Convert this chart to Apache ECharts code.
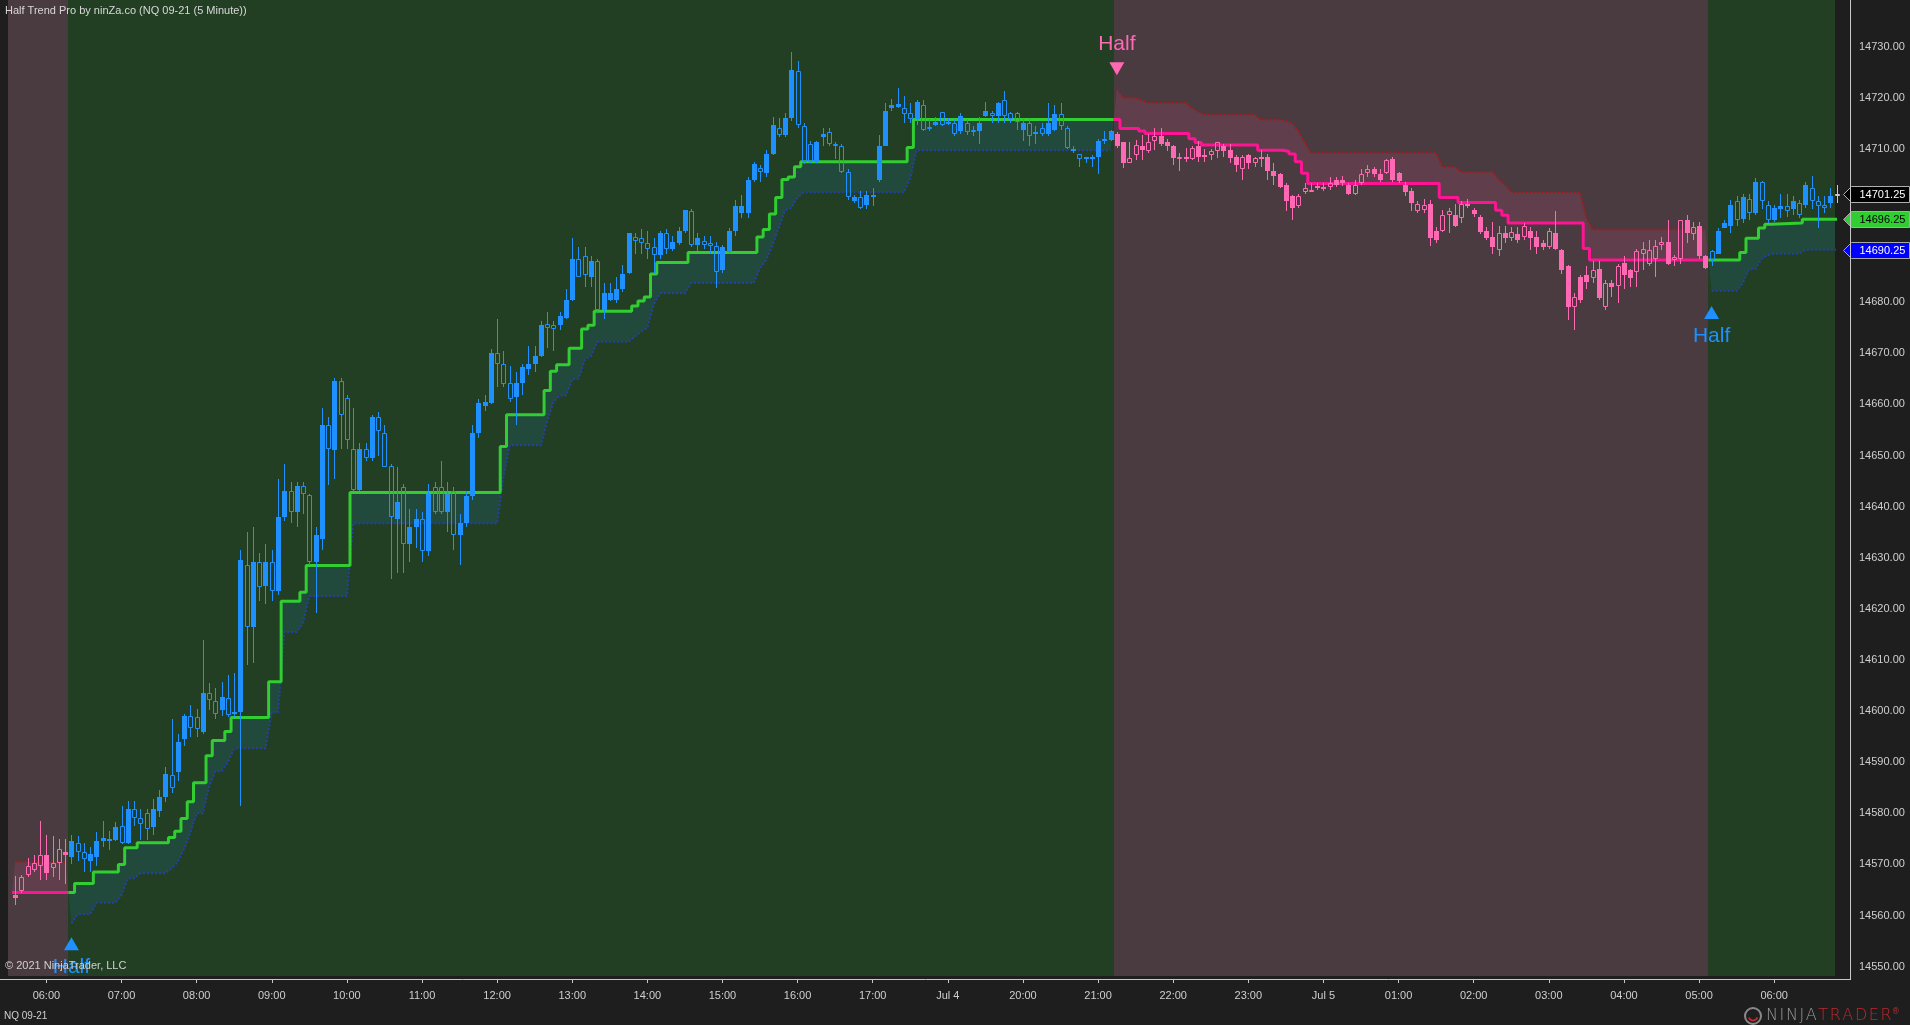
<!DOCTYPE html>
<html><head><meta charset="utf-8">
<script src="https://cdn.jsdelivr.net/npm/echarts@6/dist/echarts.min.js"></script>
<style>html,body{margin:0;padding:0;background:#1e1e1e;overflow:hidden}#c{width:1910px;height:1025px}</style>
</head><body><div id="c"></div>
<script>
// ---- data (5-minute bars, index 0..291) ----
const open = [
14564,14564.75,14568,14569,14569.75,14571.75,14569.25,14570.25,14572.5,14571.5,
14574.25,14572.5,14570.75,14571.5,14574.5,14574.75,14574.75,14577.5,14574.25,14580.75,
14579,14580,14577.25,14580.5,14583.25,14587.5,14588,14594.5,14599,14598.75,
14596,14603.5,14602,14600.25,14602.5,14599.5,14599.75,14628.5,14616.5,14629.25,
14624.5,14629.25,14623.5,14638,14643,14639,14644,14642.25,14629.25,14633.75,
14656,14651,14664.5,14661.25,14651.25,14643.25,14651.25,14649.5,14657.5,14654.5,
14648,14637.5,14643.75,14632.75,14636,14637.5,14631.25,14643.75,14643.75,14639,
14643,14634.5,14636.75,14642,14654.5,14659.75,14660.25,14670,14668,14664.25,
14661.5,14664.25,14667,14668,14669.5,14675.75,14675.5,14675.5,14677,14680.5,
14688.5,14689,14685,14688,14678.5,14680.5,14680.5,14682.5,14685.75,14692.75,
14692.5,14691.5,14690.75,14689.25,14693.5,14690.5,14691.5,14694,14697.75,14691.25,
14692,14691.5,14691,14686.25,14689.75,14694,14697.5,14697.5,14704,14706.25,
14705.25,14709,14714,14712.75,14716,14725.25,14714.5,14711,14707.5,14712.25,
14713.25,14711,14710.5,14705.5,14699.75,14700.5,14699,14700.5,14704,14710.5,
14718,14718.25,14718,14717,14715.75,14718.5,14714.25,14714.75,14717.25,14715,
14715,14713.5,14715,14713.75,14713.5,14716.5,14717,14716.5,14719.5,14717,
14717,14713.75,14715,14713,14714,14713,14713.75,14716.75,14714,14709.5,
14709,14708,14708.25,14708.5,14711.75,14711.75,14713,14711.25,14707.25,14708.75,
14710.5,14709.5,14711.5,14712.5,14711.25,14710.5,14708,14708.5,14708,14710.5,
14708.75,14708.75,14709.5,14710.5,14709.75,14708.5,14706,14708.75,14707.25,14708.5,
14708.5,14705.75,14705,14703,14700.75,14698.75,14701.5,14701.75,14702.75,14702.5,
14702.5,14704,14704,14703,14701.25,14703.25,14705.25,14706,14705,14705.25,
14708,14705.25,14703,14701.75,14697.75,14698,14699.25,14694,14694,14697,
14697,14696.5,14699.25,14698,14696.75,14694,14692.75,14690.25,14693.5,14692.5,
14693.25,14692.75,14694,14692.75,14691.5,14690.75,14693.5,14690.25,14687,14679,
14685,14685.25,14684.75,14686.5,14679,14683.75,14683.25,14687.75,14686.25,14686,
14689.5,14687.5,14688.5,14691.25,14691.75,14688.25,14688.5,14696,14693.25,14695,
14689,14690,14689.5,14694.5,14695,14699.75,14696.25,14700.25,14697.5,14703.5,
14699,14696,14698.25,14698.75,14698.25,14699.5,14699,14702.25,14699.75,14699,
14699.5,14701];
const high = [
14567.75,14568,14571.25,14571.75,14578.5,14575.75,14575.5,14575,14575,14575.75,
14575.5,14574.25,14573.5,14576.25,14578.5,14576.5,14578.25,14581.5,14582.5,14582.5,
14580.75,14580.75,14582.75,14584.5,14589,14598.5,14595.5,14599.5,14601.25,14600.5,
14614,14605.5,14604.5,14605.75,14607,14607.5,14631.5,14635,14636,14631,
14632.75,14631.5,14645.5,14648.25,14644.75,14644.75,14644.75,14642.5,14636,14659.25,
14657.5,14665.25,14665.25,14661.75,14659.25,14652.5,14652.5,14658,14658.5,14656,
14648.25,14647.75,14644.5,14639.5,14639.5,14639,14644.5,14644.75,14649,14644.75,
14643.75,14638.5,14643,14656,14661,14661.75,14670.75,14676.75,14670.5,14667.5,
14666.25,14668,14671.5,14671.5,14676.25,14678,14676.25,14678,14682.5,14692.5,
14690.75,14690.75,14689,14688.5,14683.75,14683.75,14685,14687.25,14693.5,14693.5,
14694.25,14694,14692.5,14694,14694.25,14693,14694.75,14698,14698.25,14693.5,
14693,14693,14691.75,14691.25,14694.5,14700,14701,14704.5,14707.5,14706.75,
14709.75,14716.25,14716,14717,14729,14727.25,14715,14711.5,14711.5,14714,
14714,14711.25,14711,14706,14701,14701.75,14701.75,14702.25,14712.75,14719,
14719.75,14722,14720.25,14719,14719.5,14719.5,14715.75,14716.25,14717.25,14716,
14715.75,14717,14715.75,14714.5,14716.25,14719.25,14717.5,14719.25,14721.25,14717.25,
14717.25,14715.75,14715.75,14714.5,14715,14719,14718.5,14719,14714.5,14710.5,
14709,14708.5,14708.75,14712,14713.5,14713.75,14713.25,14711.25,14711.25,14711.75,
14712.75,14713,14714,14714,14712,14710.75,14709.25,14710.25,14710.5,14711.5,
14710,14710,14711.25,14711,14711,14708.75,14708.75,14709,14708.5,14709.75,
14709,14707.25,14705.25,14703.25,14701,14701.25,14703.25,14703.25,14703.25,14703.25,
14704.5,14704.5,14704.75,14703.25,14704,14706,14706.75,14706.5,14706,14708,
14708.5,14705.5,14703.5,14702.25,14699.75,14700.25,14700,14694.75,14698,14698.5,
14699.25,14699.75,14700.25,14698.5,14697,14694.75,14695.75,14695,14695,14694.75,
14694.75,14695.5,14694.75,14694,14692.25,14694.5,14697.75,14690.5,14687.25,14681.75,
14685.25,14687,14688,14688,14684.25,14684.25,14687.5,14689,14686.5,14690.5,
14691.75,14692.25,14692.25,14692.75,14696,14689.25,14696,14697,14695.75,14695.75,
14689.25,14690.25,14694.5,14696,14700,14700.75,14701.25,14701.25,14704.25,14703.75,
14699.75,14699,14701.25,14701.25,14700.75,14700,14703.5,14704.75,14700.75,14700.75,
14702.25,14703];
const low = [
14562,14564.5,14567.5,14568.5,14567,14567,14567.5,14567,14566.25,14570,
14570.75,14568.5,14568.5,14569.75,14573.5,14572.75,14574.5,14574,14574,14577.5,
14574.75,14574.75,14575.75,14579.25,14582.25,14584,14586.25,14593.25,14595,14595,
14595.5,14600.25,14598.5,14599,14598.75,14598.75,14581.5,14609,14609.5,14621.5,
14621,14621.5,14622.75,14637.25,14636.75,14636,14638.5,14628.5,14619.25,14631.5,
14644.25,14645.5,14651.25,14651.25,14643,14643,14649,14649,14650,14647.75,
14625.75,14627,14627,14629.25,14632,14629.25,14630.25,14638.5,14638.5,14635,
14631.5,14628.5,14636,14641.25,14653.5,14658.75,14660,14663.5,14663.5,14660.5,
14656,14661.75,14665.75,14666.25,14669.25,14671,14670.5,14674.5,14676.75,14680.25,
14685,14683,14683,14678,14676.75,14680.25,14679.75,14682,14685.5,14689.5,
14689.5,14688.5,14685.5,14688.5,14689.5,14690,14691.25,14693.5,14690.75,14690,
14690.5,14689.5,14682.75,14685.75,14689.5,14693,14696.5,14696.5,14703.5,14703.5,
14704.5,14708.75,14712.25,14712.25,14715.5,14714,14707,14707.25,14707.25,14710.5,
14710.5,14708,14705.25,14700,14699.5,14698.25,14698.25,14698.75,14703.5,14710.5,
14717.5,14718,14715,14715,14714.75,14713.5,14713.5,14714.5,14714.5,14714.75,
14712.5,14713,14712.75,14712.5,14711,14716.25,14715,14715,14715,14715,
14713.75,14711.5,14710.5,14711,14712.5,14712.5,14713.5,14713.75,14710,14709.25,
14706.5,14707.25,14706.5,14705,14711,14711.5,14710.25,14706.25,14707.25,14707.75,
14707.75,14709.25,14709.75,14710.5,14709.5,14706.75,14705.75,14707.5,14707.75,14707.5,
14707.5,14707.75,14708.25,14708.5,14707.25,14705.5,14704,14706,14706.5,14706.5,
14704,14703,14702.25,14697.75,14696,14698.5,14701.25,14701.5,14702,14701.75,
14702,14702.5,14702.75,14701,14701,14703,14704.5,14704.5,14703.5,14705,
14703.5,14703.25,14700.75,14697.75,14697.5,14697.5,14691,14691.5,14693.75,14693.5,
14694.75,14695.5,14698.5,14696.75,14693.25,14692.25,14689.5,14689,14691.5,14692,
14691.5,14692.25,14690.25,14689.5,14690.25,14690.5,14690.25,14685.5,14676.5,14674.5,
14679.75,14682.5,14683.75,14680.5,14678.5,14681,14679.75,14682.5,14683,14683,
14686.25,14687,14685,14690.25,14687.25,14687,14687.5,14691.5,14692.25,14688.5,
14686.5,14687,14689.5,14694.5,14693.5,14695,14695.5,14696,14697,14698.25,
14695.5,14695.75,14696.5,14696.75,14697,14696.5,14698.5,14698.25,14694.5,14697.5,
14698.5,14699.5];
const close = [
14563.5,14567.5,14569.75,14570.25,14571.75,14568.25,14570.25,14573,14571.75,14574.5,
14572.5,14571,14572,14574.5,14575.25,14575,14577.25,14574.25,14580.75,14579,
14578,14577,14580.75,14583.25,14587.75,14585,14594,14599,14596.75,14596.5,
14603.5,14602.25,14599.5,14602.75,14599.25,14599.75,14629.5,14616.5,14629.25,14624.25,
14629.25,14623.5,14638,14643,14639,14644,14642.5,14629.25,14634.5,14656,
14651.25,14664.5,14658,14653,14643.25,14651.25,14649.5,14657.5,14654.75,14647.75,
14638,14641,14632.75,14636,14637.5,14631.25,14642.5,14639,14639,14642.5,
14634.5,14636.75,14642,14654.5,14660.25,14660.5,14670,14668,14664,14661,
14664.25,14667.25,14668,14669.5,14675.5,14675,14674.75,14677.25,14680.5,14688.5,
14685,14685.25,14688,14678.5,14681.75,14681.75,14682.5,14685.5,14693.5,14692,
14691.5,14690.5,14689.25,14693.5,14690.5,14691.75,14694,14698,14691.25,14692.5,
14691.25,14691,14686,14690.75,14694,14698.75,14698.75,14704,14707,14705.5,
14709,14714.75,14712.75,14716,14725.5,14714.75,14707.5,14707.5,14711.25,14713,
14711,14710.5,14705.5,14700.5,14700.5,14698.5,14701,14701,14710.5,14717.5,
14718.5,14718.75,14716.75,14715.75,14719.25,14713.75,14714,14715.25,14714.75,14715.25,
14713,14716.5,14713.25,14713.5,14715,14717.5,14716.5,14719,14716.5,14715.75,
14715.25,14715,14712.5,14713.25,14713,14715,14716.75,14714.5,14710.25,14710,
14708,14708.5,14708.5,14711.5,14712,14713.5,14710.5,14707.25,14708.25,14710.75,
14709.75,14711.25,14712.5,14711,14710.5,14708.25,14708.5,14708,14710.25,14708.5,
14708.5,14709.5,14711.25,14709.5,14708.25,14706.75,14708.5,14707.25,14708.25,14708,
14705.75,14704.75,14702.5,14699.75,14698.5,14700.75,14702.25,14702,14702.5,14702.5,
14703.25,14703,14703.25,14701.25,14703,14705,14706,14705,14704,14707.75,
14704,14703.75,14701.5,14699.5,14699.25,14699,14692.5,14692.25,14697,14697.75,
14695,14699.25,14699,14697.25,14693.75,14692.5,14690.75,14693.5,14692.5,14693.75,
14692.25,14695,14692.5,14690.75,14690.75,14694,14690.5,14686.25,14679,14681,
14680.5,14684,14686.25,14680.75,14683.75,14683,14687,14685.25,14684.75,14690,
14690.5,14690.25,14691,14691.75,14687.5,14688.75,14696,14693.5,14694.75,14689,
14686.75,14688.25,14694,14695.5,14699,14696,14700.5,14697.5,14703.5,14699.75,
14696,14698.5,14698.75,14697.75,14699.75,14697,14703,14699.75,14698.75,14698.5,
14700.75,14701.25];

// trend segments: [firstBar, lastBar, direction]
const trendSegments = [[0,8,-1],[9,175,1],[176,270,-1],[271,291,1]];
// Half Trend line steps: [barWhereLevelStarts, level]
const htSteps = [
[0,14564.5],[9,14564.5],[10,14566.25],[13,14568.5],[17,14570],[18,14573.25],[20,14574.25],[25,14575.25],[26,14576.5],
[27,14579],[28,14582.25],[29,14586],[31,14591.25],[32,14594.25],[34,14596],[35,14598.75],[41,14605.75],[43,14621.5],
[46,14623.25],[47,14628.5],[54,14642.75],[78,14651.75],[79,14658],[85,14662.75],[86,14666.5],[87,14667.75],[89,14671],
[91,14674.75],[92,14675.5],[93,14678.25],[99,14679.25],[100,14680.25],[101,14681],[102,14685.5],[103,14687.75],
[108,14689.75],[119,14692.75],[120,14694.25],[121,14697.25],[122,14700.5],[123,14704],[124,14704.5],[125,14706.5],
[126,14707.5],[143,14710.25],[144,14715.75],
[176,14715.75],[177,14714],[180,14713.5],[181,14713],[188,14712],[189,14711.25],[190,14710.75],[199,14709.75],
[203,14709.5],[204,14709],[205,14707.5],[206,14705.25],[207,14703.25],[228,14700.5],[231,14699.5],[237,14698],
[238,14697],[239,14695.5],[251,14690.5],[252,14688.25],
[271,14688.25],[276,14689.75],[277,14692.5],[279,14694.5],[280,14695.25],[281,14695.5],[286,14696.25]];
// ATR band vertices: [bar, level]
const bandPoints = [
[0,14570.5],[8,14570.5],
[9,14558.5],[10,14560.25],[12,14560.25],[13,14562.5],[16,14562.5],[17,14564],[18,14567.25],[19,14567.25],[20,14568.25],
[24,14568.25],[25,14569.25],[26,14570.5],[27,14573],[28,14576.25],[29,14580],[30,14580],[31,14585.25],[32,14588.25],
[33,14588.25],[34,14590],[35,14592.75],[40,14592.75],[41,14599.75],[42,14599.75],[43,14615.5],[45,14615.5],[46,14617.25],
[47,14622.5],[53,14622.5],[54,14636.75],[77,14636.75],[78,14645.75],[79,14652],[84,14652],[85,14656.75],[86,14660.5],
[87,14661.75],[88,14661.75],[89,14665],[90,14665],[91,14668.75],[92,14669.5],[93,14672.25],[98,14672.25],[99,14673.25],
[100,14674.25],[101,14675],[102,14679.5],[103,14681.75],[107,14681.75],[108,14683.75],[118,14683.75],[119,14686.75],
[120,14688.25],[121,14691.25],[122,14694.5],[123,14698],[124,14698.5],[125,14700.5],[126,14701.5],[142,14701.5],
[143,14704.25],[144,14709.75],[175,14709.75],
[176,14721.75],[177,14720],[179,14720],[180,14719.5],[181,14719],[187,14719],[188,14718],[189,14717.25],[190,14716.75],
[198,14716.75],[199,14715.75],[202,14715.75],[203,14715.5],[204,14715],[205,14713.5],[206,14711.25],[207,14709.25],
[227,14709.25],[228,14706.5],[230,14706.5],[231,14705.5],[236,14705.5],[237,14704],[238,14703],[239,14701.5],
[250,14701.5],[251,14696.5],[252,14694.25],[270,14694.25],
[271,14682.25],[275,14682.25],[276,14683.75],[277,14686.5],[278,14686.5],[279,14688.5],[280,14689.25],[281,14689.5],
[285,14689.5],[286,14690.25],[291,14690.25]];
// signal arrows: [bar, level, direction]
const signals = [[9,14554.4,1],[176,14725.8,-1],[271,14677.9,1]];
const signalText = 'Half';
// axis ticks
const xTickBars = [5,17,29,41,53,65,77,89,101,113,125,137,149,161,173,185,197,209,221,233,245,257,269,281];
const xTickLabels = ['06:00','07:00','08:00','09:00','10:00','11:00','12:00','13:00','14:00','15:00','16:00','17:00',
  'Jul 4','20:00','21:00','22:00','23:00','Jul 5','01:00','02:00','03:00','04:00','05:00','06:00'];
const yTicks = [14550,14560,14570,14580,14590,14600,14610,14620,14630,14640,14650,14660,14670,14680,14690,14700,14710,14720,14730];

// ---- styling ----
const FONT = '"Liberation Sans", Arial, sans-serif';
const BG_UP = '#223f24', BG_DN = '#4a3b41';
const C_UP = '#1e90ff', C_DN = '#ff69b4';
const HT_UP = '#32cd32', HT_DN = '#ff1493';
const BAND_UP = '#2242a8', BAND_DN = '#9a1e1e';
const FILL_UP = 'rgba(32,96,112,0.32)', FILL_DN = 'rgba(210,80,130,0.16)';
const xMin = -1.134, xMax = 290.72, yMin = 14548.17, yMax = 14739.13;

function trendAt(i){ for (const s of trendSegments) if (i>=s[0] && i<=s[1]) return s[2]; return 1; }
function stepsOf(s,e){ return htSteps.filter(p=>p[0]>=s && p[0]<=e); }
function bandOf(s,e){ return bandPoints.filter(p=>p[0]>=s && p[0]<=e); }

const nBars = close.length;
const candleData = [];
for (let i=0;i<nBars;i++) candleData.push([i, open[i], close[i], low[i], high[i]]);

const series = [];
// background trend regions
series.push({
  type:'custom', z:1, silent:true, clip:true,
  data: trendSegments.map((s,k)=>[s[0], yMin, k]),
  encode:{x:0,y:1},
  renderItem(params, api){
    const k = params.dataIndex, seg = trendSegments[k], cs = params.coordSys;
    let x0 = api.coord([seg[0]-0.5, yMin])[0], x1 = api.coord([seg[1]+0.5, yMin])[0];
    if (k===0) x0 = cs.x;
    if (k===trendSegments.length-1) x1 = cs.x+cs.width;
    x0 = Math.round(Math.max(x0, cs.x)); x1 = Math.round(Math.min(x1, cs.x+cs.width));
    return {type:'rect', shape:{x:x0, y:cs.y, width:x1-x0, height:cs.height}, style:{fill: seg[2]>0?BG_UP:BG_DN}};
  }
});
// fill between half trend line and band
series.push({
  type:'custom', z:2, silent:true, clip:true,
  data: trendSegments.map((s,k)=>[s[0], yMin, k]),
  encode:{x:0,y:1},
  renderItem(params, api){
    const seg = trendSegments[params.dataIndex];
    const st = stepsOf(seg[0], seg[1]);
    const pts = [];
    st.forEach((p,k)=>{
      const xa = p[0]-0.5, xb = k<st.length-1 ? st[k+1][0]-0.5 : seg[1]+0.5;
      pts.push(api.coord([xa,p[1]]), api.coord([xb,p[1]]));
    });
    bandOf(seg[0], seg[1]).slice().reverse().forEach(p=>pts.push(api.coord(p)));
    return {type:'polygon', shape:{points:pts}, style:{fill: seg[2]>0?FILL_UP:FILL_DN}};
  }
});
// band lines and half trend lines
trendSegments.forEach(seg=>{
  series.push({type:'line', z:3, silent:true, symbol:'none', animation:false,
    data: bandOf(seg[0],seg[1]),
    lineStyle:{color: seg[2]>0?BAND_UP:BAND_DN, width:2, type:[2,2]}});
});
trendSegments.forEach(seg=>{
  const st = stepsOf(seg[0],seg[1]);
  const d = st.map(p=>[p[0]-0.5, p[1]]);
  d.push([seg[1]+0.5, st[st.length-1][1]]);
  series.push({type:'line', z:4, silent:true, symbol:'none', step:'end', animation:false,
    data:d, lineStyle:{color: seg[2]>0?HT_UP:HT_DN, width:3}});
});
// candles
series.push({
  type:'custom', z:5, silent:true, clip:false,
  data: candleData, encode:{x:0, y:[1,2,3,4]},
  renderItem(params, api){
    const i = api.value(0), o = api.value(1), c = api.value(2), l = api.value(3), h = api.value(4);
    const t = trendAt(i);
    const last = i === nBars-1;
    const col = last ? '#c8c8c8' : (t>0 ? C_UP : C_DN);
    const filled = t>0 ? c>=o : c<=o;
    const pO = api.coord([i,o]), pC = api.coord([i,c]), pL = api.coord([i,l]), pH = api.coord([i,h]);
    const x = Math.round(pO[0]) + 0.5;
    let top = Math.round(Math.min(pO[1],pC[1])), bot = Math.round(Math.max(pO[1],pC[1]));
    if (bot-top < 2) bot = top + 2;
    const ch = [];
    ch.push({type:'line', shape:{x1:x, y1:Math.round(pH[1]), x2:x, y2:top}, style:{stroke:col, lineWidth:1}});
    ch.push({type:'line', shape:{x1:x, y1:bot, x2:x, y2:Math.round(pL[1])}, style:{stroke:col, lineWidth:1}});
    if (last) {
      ch.push({type:'rect', shape:{x:x-2, y:top+0.5, width:4, height:bot-top-1}, style:{fill:HT_UP, stroke:col, lineWidth:1}});
    } else if (filled) {
      ch.push({type:'rect', shape:{x:x-2.5, y:top, width:5, height:bot-top}, style:{fill:col}});
    } else {
      ch.push({type:'rect', shape:{x:x-2, y:top+0.5, width:4, height:bot-top-1}, style:{fill:'none', stroke:col, lineWidth:1}});
    }
    return {type:'group', children:ch};
  }
});
// signal arrows
series.push({
  type:'custom', z:6, silent:true, clip:true,
  data: signals, encode:{x:0,y:1},
  renderItem(params, api){
    const p = api.coord([api.value(0), api.value(1)]);
    const up = api.value(2) > 0;
    const col = up ? C_UP : C_DN;
    const x = p[0], y = p[1];
    const tri = up ? [[x,y-7],[x-7.5,y+6],[x+7.5,y+6]] : [[x-7.5,y-6],[x+7.5,y-6],[x,y+7]];
    return {type:'group', children:[
      {type:'polygon', shape:{points:tri}, style:{fill:col}},
      {type:'text', x:x, y: up ? y+23 : y-24, style:{text:signalText, fill:col, font:'21px '+FONT, align:'center', verticalAlign:'middle'}}
    ]};
  }
});
// right-axis price markers
const markers = [
  [xMax, close[nBars-1], '#000000', '#ffffff', '#b0b0b0'],
  [xMax, htSteps[htSteps.length-1][1], HT_UP, '#000000', '#a8a8a8'],
  [xMax, bandPoints[bandPoints.length-1][1], '#0000ff', '#ffffff', '#a8a8a8']
];
series.push({
  type:'custom', z:7, silent:true, clip:false,
  data: markers.map(m=>[m[0], m[1]]), encode:{x:0,y:1},
  renderItem(params, api){
    const m = markers[params.dataIndex];
    const cs = params.coordSys;
    const y = Math.round(api.coord([m[0], m[1]])[1]) + 0.5;
    const tip = cs.x + cs.width + 8.5, body = tip + 8, right = 1909.5;
    return {type:'group', children:[
      {type:'polygon', shape:{points:[[tip,y],[body,y-8],[right,y-8],[right,y+8],[body,y+8]]}, style:{fill:m[2], stroke:m[4], lineWidth:1}},
      {type:'text', x: body+8, y:y, style:{text:m[1].toFixed(2), fill:m[3], font:'11px '+FONT, verticalAlign:'middle', align:'left'}}
    ]};
  }
});

const labelMap = {};
xTickBars.forEach((b,k)=>labelMap[b]=xTickLabels[k]);
const HS = '\u200A';
const spaced = s => s.split('').join(HS);

const option = {
  backgroundColor:'#1e1e1e',
  animation:false,
  grid:{left:8, top:0, right:75, bottom:49, outerBoundsMode:'none'},
  xAxis:{type:'value', min:xMin, max:xMax, offset:3,
    axisLine:{show:false}, splitLine:{show:false},
    axisTick:{show:true, customValues:xTickBars, length:4, lineStyle:{color:'#c8c8c8'}},
    axisLabel:{customValues:xTickBars, formatter:v=>labelMap[Math.round(v)]||'', color:'#cfcfcf', fontSize:11, fontFamily:'Liberation Sans', margin:11}},
  yAxis:{type:'value', position:'right', min:yMin, max:yMax, offset:15, scale:true,
    axisLine:{show:false}, splitLine:{show:false},
    axisTick:{show:true, customValues:yTicks, length:5, lineStyle:{color:'#c8c8c8'}},
    axisLabel:{customValues:yTicks, formatter:v=>Number(v).toFixed(2), color:'#cfcfcf', fontSize:11, fontFamily:'Liberation Sans', margin:9}},
  series: series,
  graphic:[
    {type:'line', z:50, silent:true, shape:{x1:0, y1:979.5, x2:1851, y2:979.5}, style:{stroke:'#c8c8c8', lineWidth:1}},
    {type:'line', z:50, silent:true, shape:{x1:1850.5, y1:0, x2:1850.5, y2:980}, style:{stroke:'#c8c8c8', lineWidth:1}},
    {type:'text', z:60, silent:true, x:5, y:11, style:{text:'Half Trend Pro by ninZa.co (NQ 09-21 (5 Minute))', fill:'#d8d8d8', font:'11px '+FONT, verticalAlign:'middle'}},
    {type:'text', z:60, silent:true, x:5, y:966, style:{text:'© 2021 NinjaTrader, LLC', fill:'#d0d0d0', font:'11px '+FONT, verticalAlign:'middle'}},
    {type:'text', z:60, silent:true, x:4, y:1016, style:{text:'NQ 09-21', fill:'#d0d0d0', font:'10px '+FONT, verticalAlign:'middle'}},
    {type:'circle', z:60, silent:true, shape:{cx:1753, cy:1016, r:8}, style:{fill:'none', stroke:'#8a8a8a', lineWidth:2}},
    {type:'arc', z:61, silent:true, shape:{cx:1753, cy:1016, r:4.5, startAngle:0.3, endAngle:2.8}, style:{fill:'none', stroke:'#c0282d', lineWidth:2}},
    {type:'text', z:60, silent:true, x:1766, y:1016, style:{
      text:'{a|'+spaced('NINJA')+HS+'}{b|'+spaced('TRADER')+'}{c|®}', verticalAlign:'middle',
      rich:{a:{fill:'#9a9a9a', fontSize:16, fontFamily:'DejaVu Sans', fontWeight:200},
            b:{fill:'#c0282d', fontSize:16, fontFamily:'DejaVu Sans', fontWeight:200},
            c:{fill:'#c0282d', fontSize:8, fontFamily:'DejaVu Sans', verticalAlign:'top'}}}}
  ]
};
const chart = echarts.init(document.getElementById('c'), null, {renderer:'canvas', width:1910, height:1025});
chart.setOption(option);
</script>
</body></html>
